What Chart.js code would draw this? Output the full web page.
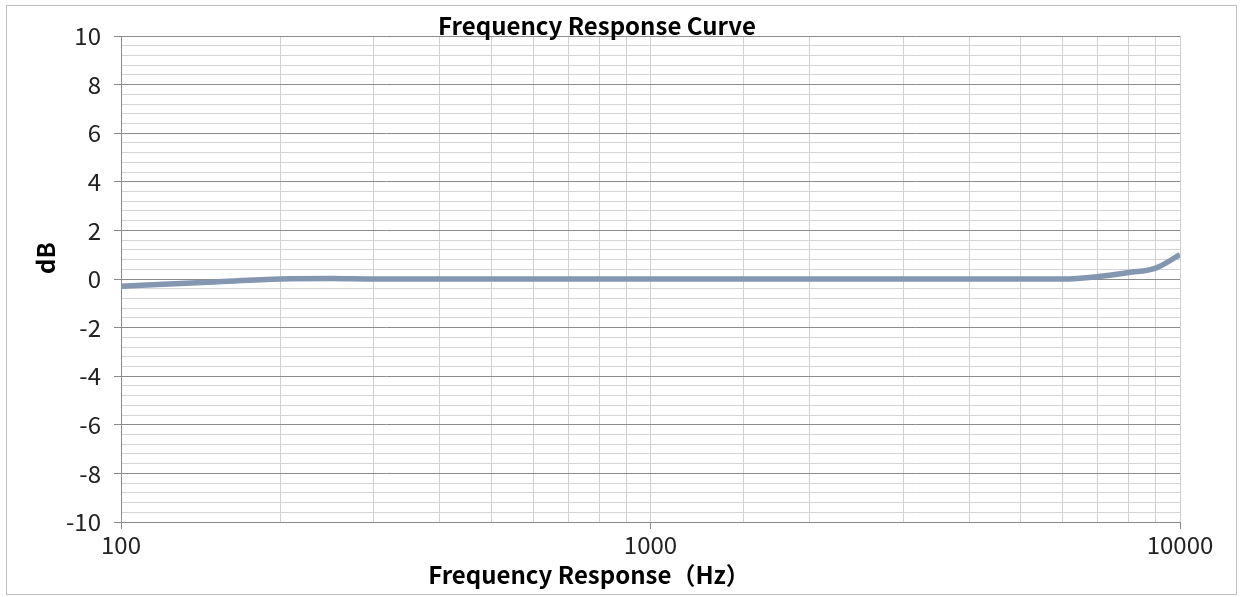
<!DOCTYPE html>
<html>
<head>
<meta charset="utf-8">
<script src="https://cdn.jsdelivr.net/npm/chart.js@4/dist/chart.umd.min.js"></script>
<style>
  html, body { margin: 0; padding: 0; background: #fff; }
  #wrap { width: 1242px; height: 597px; }
</style>
</head>
<body>
<div id="wrap"><canvas id="freqChart" width="1242" height="597"></canvas></div>
<script>
const freqs = [100, 150, 200, 250, 300, 400, 500, 700, 1000, 2000, 3000, 4000, 5000, 6000, 7000, 8000, 9000, 10000];
const dbValues = [-0.3, -0.12, 0, 0.02, 0, 0, 0, 0, 0, 0, 0, 0, 0, 0, 0.1, 0.27, 0.45, 1.0];
const xTickLabels = [100, 1000, 10000];
const yMajorStep = 2;

const chartTitle = 'Frequency Response Curve';
const xTitle = 'Frequency Response（Hz）';
const yTitle = 'dB';

const fontFamily = '"Noto Sans CJK SC", "Noto Sans", sans-serif';

function isMajorY(v) {
  return Math.abs(v - Math.round(v / yMajorStep) * yMajorStep) < 1e-6;
}

// frame + titles drawn on top of the canvas
const decorPlugin = {
  id: 'decor',
  afterDraw(chart) {
    const c = chart.ctx;
    c.save();
    c.strokeStyle = '#bfbfbf';
    c.lineWidth = 1;
    c.strokeRect(6.5, 5.5, 1230, 589);

    c.fillStyle = '#000';
    c.textAlign = 'center';
    c.textBaseline = 'alphabetic';
    c.font = 'bold 24px ' + fontFamily;
    c.fillText(chartTitle, 597, 35);
    c.fillText(xTitle, 589, 584);

    c.translate(55, 258);
    c.rotate(-Math.PI / 2);
    c.fillText(yTitle, 0, 0);
    c.restore();
  }
};

const ctx = document.getElementById('freqChart').getContext('2d');
const freqChart = new Chart(ctx, {
  type: 'line',
  data: {
    datasets: [{
      label: 'dB',
      data: freqs.map((f, i) => ({ x: f, y: dbValues[i] })),
      borderColor: '#8497B0',
      borderWidth: 5.5,
      pointRadius: 0,
      tension: 0.4,
      cubicInterpolationMode: 'monotone',
      fill: false
    }]
  },
  options: {
    responsive: false,
    animation: false,
    layout: { padding: { top: 36, right: 62, left: 0, bottom: 0 } },
    plugins: {
      legend: { display: false },
      title: { display: false },
      tooltip: { enabled: false }
    },
    scales: {
      x: {
        type: 'logarithmic',
        min: 100,
        max: 10000,
        afterFit(scale) { scale.height = 75; },
        border: { color: '#898989', width: 1 },
        grid: {
          color: '#d0d0d0',
          lineWidth: 1,
          tickLength: 7,
          tickColor: c => xTickLabels.includes(c.tick && c.tick.value) ? '#898989' : 'rgba(0,0,0,0)'
        },
        ticks: {
          autoSkip: false,
          maxRotation: 0,
          padding: 1,
          color: '#222',
          font: { family: fontFamily, size: 24 },
          callback: v => xTickLabels.includes(v) ? String(v) : ''
        }
      },
      y: {
        min: -10,
        max: 10,
        afterFit(scale) { scale.width = 121; },
        border: { color: '#898989', width: 1 },
        grid: {
          color: c => isMajorY(c.tick.value) ? '#8c8c8c' : '#d4d4d4',
          lineWidth: 1,
          tickLength: 7,
          tickColor: c => isMajorY(c.tick.value) ? '#898989' : 'rgba(0,0,0,0)'
        },
        ticks: {
          stepSize: 0.4,
          autoSkip: false,
          padding: 13,
          color: '#222',
          font: { family: fontFamily, size: 24 },
          callback: v => isMajorY(v) ? String(Math.round(v)) : ''
        }
      }
    }
  },
  plugins: [decorPlugin]
});
</script>
</body>
</html>
